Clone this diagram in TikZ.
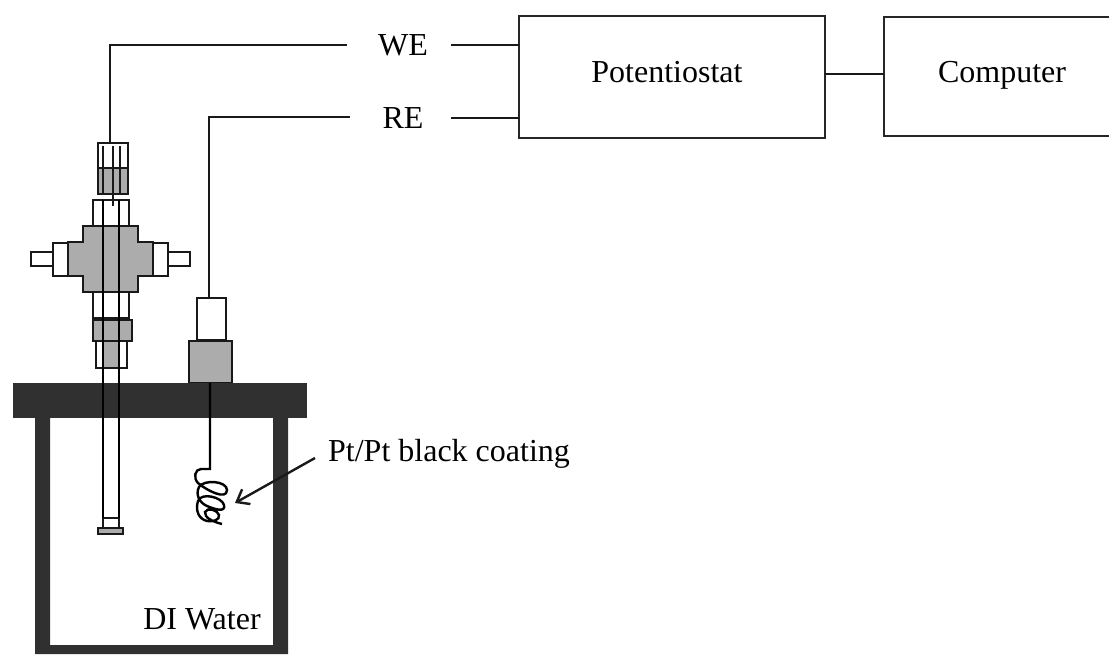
\documentclass[tikz,border=0pt]{standalone}
\usepackage{fontspec}
\setmainfont{Liberation Serif}
\usetikzlibrary{arrows.meta,calc,positioning}
\definecolor{softgray}{RGB}{172,172,172}
\definecolor{platedark}{RGB}{48,48,48}

\begin{document}
\begin{tikzpicture}[
  x=1pt, y=-1pt,
  font=\fontsize{32}{36}\selectfont,
  block/.style={draw=black!85, line width=2.8pt, inner sep=0pt, outer sep=0pt, fill=white, anchor=north west},
  part/.style={draw=black!90, line width=2.8pt, fill=white},
  grayPart/.style={part, fill=softgray},
  wire/.style={draw=black!90, line width=2.4pt},
  label/.style={inner sep=0pt, outer sep=0pt}
]
\useasboundingbox (0,0) rectangle (1109,654);
% instruments
\node[block, minimum width=306pt, minimum height=122pt] (potentiostat) at (519,16) {};
\node[block, minimum width=240pt, minimum height=119pt] (computer) at (884,17) {};
\node[label] (potText) at (667,72) {Potentiostat};
\node[label] (computerText) at (1002,75) {Computer};
\node[label] (we) at (403,45) {WE};
\node[label] (re) at (403,118) {RE};
\node[label] (ptlabel) at (449,454) {Pt/Pt black coating};
\coordinate (weport) at (potentiostat.west |- we);
\coordinate (report) at (potentiostat.west |- re);
\coordinate (weout) at (451,45);
\coordinate (reout) at (451,118);
\coordinate (wefree) at (347,45);
\coordinate (refree) at (350,117);
\draw[wire] (weout) -- (weport);
\draw[wire] (reout) -- (report);
\draw[wire] (potentiostat.east |- 0,74) -- (computer.west |- 0,74);
% vessel
\fill[platedark] (35,410) rectangle (50,654) (273,410) rectangle (288,654) (35,645) rectangle (288,654);
\node[label] (water) at (202,619) {DI Water};
% working electrode
\draw[part] (98,143) rectangle (128,168);
\draw[grayPart] (98,168) rectangle (128,194);
\draw[part] (93,200) rectangle (129,226);
\draw[part] (53,243) rectangle (68,276);
\draw[part] (153,243) rectangle (168,276);
\draw[part] (31,252) rectangle (53,266);
\draw[part] (168,252) rectangle (190,266);
\draw[grayPart] (83,226) -- (138,226) -- (138,242) -- (153,242) -- (153,276) -- (138,276) -- (138,292) -- (83,292) -- (83,276) -- (68,276) -- (68,242) -- (83,242) -- cycle;
\draw[part] (93,292) rectangle (129,318);
\draw[grayPart] (93,320) rectangle (132,341);
\draw[part] (96,341) rectangle (127,368);
\fill[softgray] (103,342) rectangle (119,367);
\draw[part] (103,518) rectangle (119,528);
\draw[grayPart] (98,528) rectangle (123,534);
% reference electrode
\draw[part] (197,298) rectangle (226,340);
\draw[grayPart] (189,341) rectangle (232,383);
% lid
\fill[platedark] (13,383) rectangle (307,418);
% tube and wires
\foreach \x in {103,119} {
  \draw[wire, draw=black] (\x,200) -- (\x,518);
}
\foreach \x in {103,113,120} {
  \draw[wire, line width=1.4pt] (\x,146) -- (\x,194);
}
\draw[wire] (113,194) -- (113,206);
\draw[wire] (110,143) |- (wefree);
\draw[wire] (209,298) |- (refree);
\draw[wire, draw=black] (210,383) -- (210,469) -- (201,469)
  .. controls (195,469) and (193,478) .. (198,483)
  .. controls (206,490) and (227,501) .. (227,490) .. controls (227,481) and (204,479) .. (199,487)
  .. controls (195,495) and (200,503) .. (207,506) .. controls (214,509) and (226,513) .. (224,505)
  .. controls (222,497) and (201,492) .. (198,501)
  .. controls (195,511) and (199,519) .. (207,521) .. controls (213,522) and (220,520) .. (219,515)
  .. controls (218,510) and (207,507) .. (205,512) .. controls (204,518) and (214,522) .. (222,524);
\draw[wire, -{Straight Barb[length=11pt,width=17pt]}] (315,458) -- (235,503);
\end{tikzpicture}
\end{document}
